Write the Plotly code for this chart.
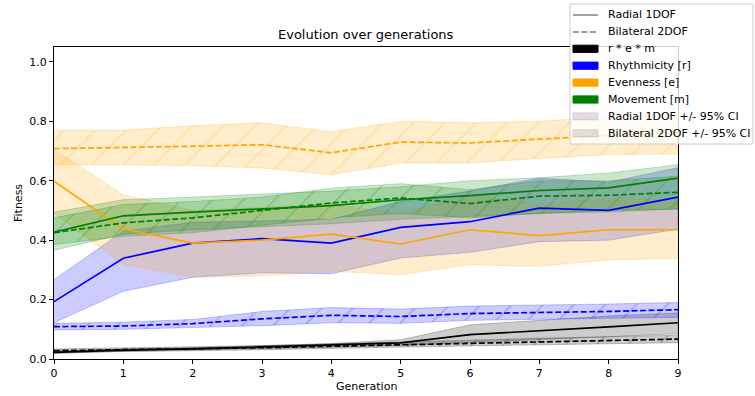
import plotly.graph_objects as go

# ---------------- data ----------------
generations = [0, 1, 2, 3, 4, 5, 6, 7, 8, 9]
x_ticks = [0, 1, 2, 3, 4, 5, 6, 7, 8, 9]
y_ticks = [0.0, 0.2, 0.4, 0.6, 0.8, 1.0]

# Radial 1DOF
radial_rem_mean = [0.022, 0.030, 0.034, 0.040, 0.046, 0.054, 0.082, 0.094, 0.108, 0.122]
radial_rem_lo = [0.018, 0.026, 0.030, 0.035, 0.040, 0.046, 0.055, 0.065, 0.075, 0.085]
radial_rem_hi = [0.026, 0.034, 0.038, 0.045, 0.052, 0.065, 0.115, 0.130, 0.145, 0.155]

radial_r_mean = [0.193, 0.339, 0.390, 0.405, 0.390, 0.443, 0.462, 0.508, 0.500, 0.545]
radial_r_lo = [0.122, 0.228, 0.275, 0.290, 0.287, 0.340, 0.359, 0.395, 0.400, 0.437]
radial_r_hi = [0.267, 0.430, 0.460, 0.465, 0.470, 0.530, 0.565, 0.609, 0.595, 0.644]

radial_e_mean = [0.598, 0.438, 0.390, 0.400, 0.420, 0.387, 0.435, 0.415, 0.435, 0.435]
radial_e_lo = [0.490, 0.318, 0.275, 0.280, 0.295, 0.284, 0.317, 0.312, 0.334, 0.338]
radial_e_hi = [0.705, 0.553, 0.500, 0.510, 0.520, 0.490, 0.550, 0.520, 0.540, 0.535]

radial_m_mean = [0.427, 0.482, 0.494, 0.506, 0.516, 0.536, 0.550, 0.567, 0.576, 0.609]
radial_m_lo = [0.366, 0.420, 0.435, 0.445, 0.455, 0.470, 0.480, 0.490, 0.495, 0.505]
radial_m_hi = [0.494, 0.536, 0.545, 0.555, 0.565, 0.580, 0.600, 0.610, 0.626, 0.654]

# Bilateral 2DOF
bilateral_rem_mean = [0.028, 0.031, 0.034, 0.038, 0.043, 0.048, 0.053, 0.059, 0.064, 0.067]
bilateral_rem_lo = [0.022, 0.025, 0.028, 0.031, 0.035, 0.040, 0.044, 0.048, 0.052, 0.055]
bilateral_rem_hi = [0.034, 0.037, 0.040, 0.045, 0.051, 0.056, 0.063, 0.070, 0.076, 0.080]

bilateral_r_mean = [0.109, 0.111, 0.119, 0.135, 0.147, 0.143, 0.153, 0.156, 0.160, 0.166]
bilateral_r_lo = [0.098, 0.100, 0.106, 0.112, 0.122, 0.120, 0.130, 0.133, 0.137, 0.140]
bilateral_r_hi = [0.120, 0.124, 0.133, 0.160, 0.173, 0.168, 0.178, 0.181, 0.185, 0.190]

bilateral_e_mean = [0.708, 0.711, 0.716, 0.721, 0.694, 0.730, 0.727, 0.740, 0.752, 0.760]
bilateral_e_lo = [0.654, 0.654, 0.650, 0.643, 0.620, 0.660, 0.660, 0.675, 0.688, 0.690]
bilateral_e_hi = [0.770, 0.770, 0.785, 0.795, 0.765, 0.800, 0.795, 0.800, 0.815, 0.825]

bilateral_m_mean = [0.425, 0.458, 0.475, 0.499, 0.525, 0.542, 0.523, 0.548, 0.551, 0.561]
bilateral_m_lo = [0.385, 0.413, 0.425, 0.450, 0.475, 0.490, 0.475, 0.490, 0.500, 0.505]
bilateral_m_hi = [0.475, 0.520, 0.530, 0.545, 0.575, 0.590, 0.570, 0.600, 0.600, 0.615]

legend_labels = ["Radial 1DOF", "Bilateral 2DOF", "r * e * m", "Rhythmicity [r]",
                 "Evenness [e]", "Movement [m]", "Radial 1DOF +/- 95% CI",
                 "Bilateral 2DOF +/- 95% CI"]

# ---------------- styling ----------------
FONT = "DejaVu Sans"
W, H = 755, 396
L, R, T, B = 54, 77, 47, 37
PW, PH = W - L - R, H - T - B
LW = 1.7

COLORS = {"rem": (0, 0, 0), "r": (0, 0, 255), "e": (255, 165, 0), "m": (0, 128, 0)}


def rgba(c, a):
    return f"rgba({c[0]},{c[1]},{c[2]},{a})"


def px(x):
    return (x - L) / PW


def py(y):
    return (H - B - y) / PH


series = [
    ("rem", radial_rem_mean, radial_rem_lo, radial_rem_hi,
     bilateral_rem_mean, bilateral_rem_lo, bilateral_rem_hi),
    ("r", radial_r_mean, radial_r_lo, radial_r_hi,
     bilateral_r_mean, bilateral_r_lo, bilateral_r_hi),
    ("e", radial_e_mean, radial_e_lo, radial_e_hi,
     bilateral_e_mean, bilateral_e_lo, bilateral_e_hi),
    ("m", radial_m_mean, radial_m_lo, radial_m_hi,
     bilateral_m_mean, bilateral_m_lo, bilateral_m_hi),
]

fig = go.Figure()
band_x = generations + generations[::-1]

# bands (below lines, like matplotlib's zorder)
for key, rm, rlo, rhi, bm, blo, bhi in series:
    c = COLORS[key]
    fig.add_trace(go.Scatter(
        x=band_x, y=rhi + rlo[::-1], fill="toself", mode="lines",
        fillcolor=rgba(c, 0.2), line=dict(color=rgba(c, 0.22), width=1),
        hoverinfo="skip", showlegend=False))
    fig.add_trace(go.Scatter(
        x=band_x, y=bhi + blo[::-1], fill="toself", mode="lines",
        fillcolor=rgba(c, 0.2), line=dict(color=rgba(c, 0.22), width=1),
        fillpattern=dict(shape="/", fgcolor=rgba(c, 0.25), bgcolor=rgba(c, 0.2),
                         size=22, solidity=0.06, fillmode="replace"),
        hoverinfo="skip", showlegend=False))

# mean lines
for key, rm, rlo, rhi, bm, blo, bhi in series:
    c = COLORS[key]
    fig.add_trace(go.Scatter(x=generations, y=rm, mode="lines",
                             line=dict(color=rgba(c, 1), width=LW),
                             showlegend=False))
    fig.add_trace(go.Scatter(x=generations, y=bm, mode="lines",
                             line=dict(color=rgba(c, 1), width=LW, dash="6px,2.5px"),
                             showlegend=False))

axis_common = dict(showgrid=False, zeroline=False, showline=True, mirror=True,
                   linecolor="black", linewidth=1, ticks="outside", ticklen=4,
                   tickwidth=1, tickcolor="black",
                   tickfont=dict(family=FONT, size=11, color="black"))

fig.update_layout(
    width=W, height=H,
    margin=dict(l=L, r=R, t=T, b=B),
    paper_bgcolor="white", plot_bgcolor="white",
    font=dict(family=FONT, size=11, color="black"),
    showlegend=False,
    xaxis=dict(range=[0, 9], tickvals=x_ticks, **axis_common),
    yaxis=dict(range=[0, 1.05], tickvals=y_ticks, tickformat=".1f", **axis_common),
)

annotations = [
    dict(text="Evolution over generations", x=0.5, y=py(35), xref="paper", yref="paper",
         showarrow=False, xanchor="center", yanchor="middle",
         font=dict(family=FONT, size=13, color="black")),
    dict(text="Generation", x=0.5, y=py(387), xref="paper", yref="paper",
         showarrow=False, xanchor="center", yanchor="middle",
         font=dict(family=FONT, size=11, color="black")),
    dict(text="Fitness", x=px(18), y=0.5, xref="paper", yref="paper", textangle=-90,
         showarrow=False, xanchor="center", yanchor="middle",
         font=dict(family=FONT, size=11, color="black")),
]

# ---------------- manual legend (matplotlib style) ----------------
shapes = []
shapes.append(dict(type="rect", xref="paper", yref="paper", layer="above",
                   x0=px(570), x1=px(753), y0=py(4), y1=py(144),
                   fillcolor="rgba(255,255,255,0.8)",
                   line=dict(color="rgba(204,204,204,1)", width=1)))
row_y = [15 + 16.9 * i for i in range(8)]
hx0, hx1 = 573, 598
gray = "rgb(128,128,128)"
shapes.append(dict(type="line", xref="paper", yref="paper", layer="above",
                   x0=px(hx0), x1=px(hx1), y0=py(row_y[0]), y1=py(row_y[0]),
                   line=dict(color=gray, width=1.5)))
shapes.append(dict(type="line", xref="paper", yref="paper", layer="above",
                   x0=px(hx0), x1=px(hx1), y0=py(row_y[1]), y1=py(row_y[1]),
                   line=dict(color=gray, width=1.5, dash="6px,2.5px")))
patch_fill = [rgba(COLORS["rem"], 1), rgba(COLORS["r"], 1), rgba(COLORS["e"], 1),
              rgba(COLORS["m"], 1), "rgba(0,0,0,0.12)", "rgba(40,20,0,0.13)"]
for i, fc in enumerate(patch_fill):
    yy = row_y[i + 2]
    shapes.append(dict(type="rect", xref="paper", yref="paper", layer="above",
                       x0=px(hx0), x1=px(hx1), y0=py(yy + 3.6), y1=py(yy - 3.6),
                       fillcolor=fc, line=dict(color="rgba(0,0,0,0.1)" if i >= 4 else fc,
                                               width=1)))
for i, lab in enumerate(legend_labels):
    annotations.append(dict(text=lab, x=px(606), y=py(row_y[i]), xref="paper", yref="paper",
                            showarrow=False, xanchor="left", yanchor="middle",
                            font=dict(family=FONT, size=11, color="black")))

fig.update_layout(shapes=shapes, annotations=annotations)
fig.write_html("out.html")
